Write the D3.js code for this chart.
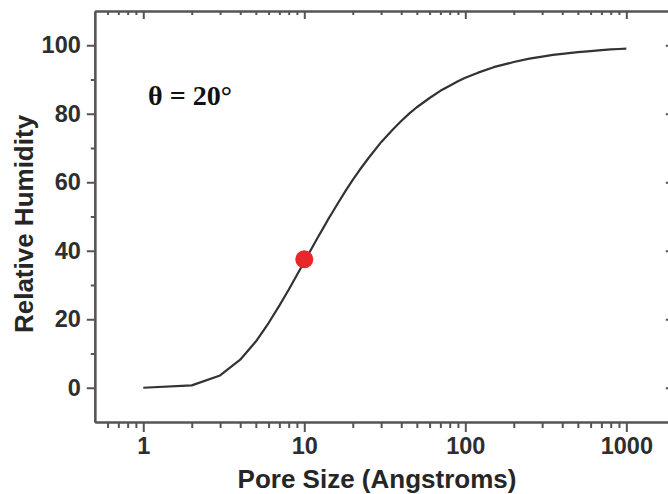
<!DOCTYPE html>
<html>
<head>
<meta charset="utf-8">
<script src="https://cdn.jsdelivr.net/npm/d3@7"></script>
<style>
  html, body { margin: 0; padding: 0; background: #fff; }
  svg { display: block; }
  .tick text { font-family: "Liberation Sans", Arial, sans-serif; font-weight: bold; fill: #2e2e2e; }
</style>
</head>
<body>
<svg id="chart" width="668" height="494"></svg>
<script>
// Data
const poreSize = [1, 2, 3, 4, 5, 6, 7, 8, 9, 10, 11, 12, 13, 14, 15, 16, 18, 20, 22, 25, 30, 35, 40, 45, 50, 60, 70, 80, 90, 100, 120, 150, 175, 200, 250, 300, 350, 400, 500, 600, 700, 800, 900, 1000];
const relHumidity = [0, 0.7, 3.6, 8.2, 13.5, 18.9, 24, 28.6, 32.9, 36.8, 40.3, 43.5, 46.3, 49, 51.3, 53.5, 57.4, 60.7, 63.5, 67, 71.7, 75.1, 77.9, 80.1, 81.9, 84.6, 86.7, 88.2, 89.5, 90.5, 92, 93.6, 94.4, 95.1, 96.1, 96.7, 97.2, 97.5, 98, 98.3, 98.6, 98.8, 98.9, 99];
const markerX = [10];
const markerY = [37.5];
const xMajorTicks = [1, 10, 100, 1000];
const xMinorTicks = [0.6, 0.7, 0.8, 0.9, 2, 3, 4, 5, 6, 7, 8, 9, 20, 30, 40, 50, 60, 70, 80, 90, 200, 300, 400, 500, 600, 700, 800, 900];
const yMajorTicks = [0, 20, 40, 60, 80, 100];
const yMinorTicks = [10, 30, 50, 70, 90];
const xTitle = "Pore Size (Angstroms)";
const yTitle = "Relative Humidity";
const annotation = "θ = 20°";

const svg = d3.select("#chart");
const x = d3.scaleLog().domain([0.5, 2000]).range([94.8, 674.8]);
const y = d3.scaleLinear().domain([-10, 110]).range([422, 11]);
const axisColor = "#555";

function styleAxis(g) {
  g.select(".domain").attr("stroke", axisColor).attr("stroke-width", 2.2);
  g.selectAll(".tick line").attr("stroke", axisColor).attr("stroke-width", 2);
}

// Bottom axis
const xFmt = d3.format("d");
svg.append("g").attr("transform", `translate(0,${y(-10)})`)
  .call(d3.axisBottom(x).tickValues(xMinorTicks).tickSize(6).tickFormat("").tickSizeOuter(0))
  .call(styleAxis);
svg.append("g").attr("transform", `translate(0,${y(-10)})`)
  .call(d3.axisBottom(x).tickValues(xMajorTicks).tickSize(10).tickPadding(5).tickFormat(xFmt).tickSizeOuter(0))
  .call(styleAxis)
  .call(g => g.selectAll(".tick text").style("font-size", "23.5px"));

// Top axis (ticks inward)
svg.append("g").attr("transform", `translate(0,${y(110)})`)
  .call(d3.axisBottom(x).tickValues(xMinorTicks).tickSize(4).tickFormat("").tickSizeOuter(0))
  .call(styleAxis);
svg.append("g").attr("transform", `translate(0,${y(110)})`)
  .call(d3.axisBottom(x).tickValues(xMajorTicks).tickSize(8).tickFormat("").tickSizeOuter(0))
  .call(styleAxis);

// Left axis
svg.append("g").attr("transform", `translate(${x(0.5)},0)`)
  .call(d3.axisLeft(y).tickValues(yMinorTicks).tickSize(4).tickFormat("").tickSizeOuter(0))
  .call(styleAxis);
svg.append("g").attr("transform", `translate(${x(0.5)},0)`)
  .call(d3.axisLeft(y).tickValues(yMajorTicks).tickSize(8).tickPadding(6).tickFormat(d3.format("d")).tickSizeOuter(0))
  .call(styleAxis)
  .call(g => g.selectAll(".tick text").style("font-size", "23.5px"));

// Right axis (ticks inward)
svg.append("g").attr("transform", `translate(${x(2000)},0)`)
  .call(d3.axisRight(y).tickValues(yMajorTicks).tickSize(-9).tickFormat("").tickSizeOuter(0))
  .call(styleAxis);

// Curve
const pts = poreSize.map((d, i) => [d, relHumidity[i]]);
svg.append("path")
  .datum(pts)
  .attr("fill", "none")
  .attr("stroke", "#333")
  .attr("stroke-width", 2.2)
  .attr("stroke-linejoin", "round")
  .attr("d", d3.line().x(d => x(d[0])).y(d => y(d[1])));

// Marker
svg.selectAll("circle.marker")
  .data(markerX.map((d, i) => [d, markerY[i]]))
  .join("circle")
  .attr("class", "marker")
  .attr("cx", d => x(d[0]))
  .attr("cy", d => y(d[1]))
  .attr("r", 9)
  .attr("fill", "#e8262b");

// Annotation
svg.append("text")
  .attr("x", 148).attr("y", 105)
  .attr("textLength", 84).attr("lengthAdjust", "spacingAndGlyphs")
  .style("font-family", "'Liberation Serif', 'Times New Roman', serif")
  .style("font-weight", "bold")
  .style("font-size", "27px")
  .attr("fill", "#111")
  .text(annotation);

// Axis titles
svg.append("text")
  .attr("x", (237 + 517) / 2).attr("y", 488)
  .attr("text-anchor", "middle")
  .style("font-family", "'Liberation Sans', Arial, sans-serif")
  .style("font-weight", "bold")
  .style("font-size", "26px")
  .attr("fill", "#262626")
  .text(xTitle);

svg.append("text")
  .attr("transform", `translate(33,${(115 + 333) / 2}) rotate(-90)`)
  .attr("text-anchor", "middle")
  .style("font-family", "'Liberation Sans', Arial, sans-serif")
  .style("font-weight", "bold")
  .style("font-size", "26px")
  .attr("fill", "#262626")
  .text(yTitle);
</script>
</body>
</html>
